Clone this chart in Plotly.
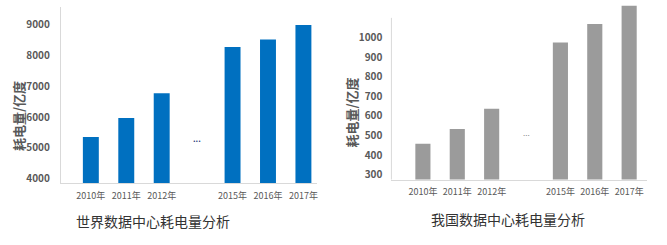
import plotly.graph_objects as go

categories = ["2010年", "2011年", "2012年", " ", "2015年", "2016年", "2017年"]
world_values = [5350, 5970, 6770, None, 8280, 8520, 8990]
china_values = [457, 533, 636, None, 975, 1070, 1164]
world_ticks = [4000, 5000, 6000, 7000, 8000, 9000]
china_ticks = [300, 400, 500, 600, 700, 800, 900, 1000]
world_title = "世界数据中心耗电量分析"
china_title = "我国数据中心耗电量分析"
y_title = "耗电量/亿度"

FONT = "Noto Sans CJK SC, Microsoft YaHei, sans-serif"
TICKC = "#595959"
LINEC = "#D9D9D9"

fig = go.Figure()
fig.add_trace(go.Bar(x=categories, y=world_values, marker_color="#0070C0",
                     marker_line_width=0, width=0.45, xaxis="x", yaxis="y",
                     showlegend=False))
fig.add_trace(go.Bar(x=categories, y=china_values, marker_color="#9B9B9B",
                     marker_line_width=0, width=0.44, xaxis="x2", yaxis="y2",
                     showlegend=False))

xcommon = dict(type="category", categoryorder="array", categoryarray=categories,
               showgrid=False, zeroline=False, showline=True, linecolor=LINEC,
               linewidth=1, ticks="", ticklabelstandoff=4, tickangle=0,
               tickfont=dict(family=FONT, size=9, color=TICKC))
ycommon = dict(showgrid=False, zeroline=False, ticks="", ticklabelstandoff=8,
               tickfont=dict(family=FONT, size=10, color=TICKC, weight=600))

def ann(text, x, y, size, color, weight=400, angle=0, xref="paper", yref="paper"):
    return dict(text=text, xref=xref, yref=yref, x=x, y=y, xanchor="center",
                yanchor="middle", textangle=angle, showarrow=False,
                font=dict(family=FONT, size=size, color=color, weight=weight))

fig.update_layout(
    width=667, height=245,
    margin=dict(l=0, r=0, t=0, b=0),
    plot_bgcolor="white", paper_bgcolor="white",
    xaxis=dict(domain=[61/667, 317/667], range=[-0.845, 6.37], anchor="y", **xcommon),
    yaxis=dict(domain=[1-185/245, 1-7/245], range=[3839, 9581], anchor="x",
               tickvals=world_ticks, showline=True, linecolor=LINEC, linewidth=1,
               **ycommon),
    xaxis2=dict(domain=[392/667, 648/667], range=[-0.916, 6.52], anchor="y2", **xcommon),
    yaxis2=dict(domain=[1-181/245, 1-4.5/245], range=[274.6, 1170], anchor="x2",
                tickvals=china_ticks, showline=False, **ycommon),
    shapes=[dict(type="line", xref="x2 domain", yref="y2 domain", x0=0, x1=0,
                 y0=0, y1=0.9235, line=dict(color=LINEC, width=1))],
    annotations=[
        ann(world_title, 153/667, 1-223/245, 14, "#333333"),
        ann(china_title, 508.5/667, 1-221/245, 14, "#333333"),
        ann(y_title, 18/667, 1-117/245, 13, TICKC, 600, -90),
        ann(y_title, 352/667, 1-113/245, 13, TICKC, 600, -90),
        ann("...", " ", 5300, 8, "#1F3A7A", 700, 0, "x", "y"),
        ann("...", " ", 515, 8, "#888888", 400, 0, "x2", "y2"),
    ],
)

fig.write_html("out.html")
